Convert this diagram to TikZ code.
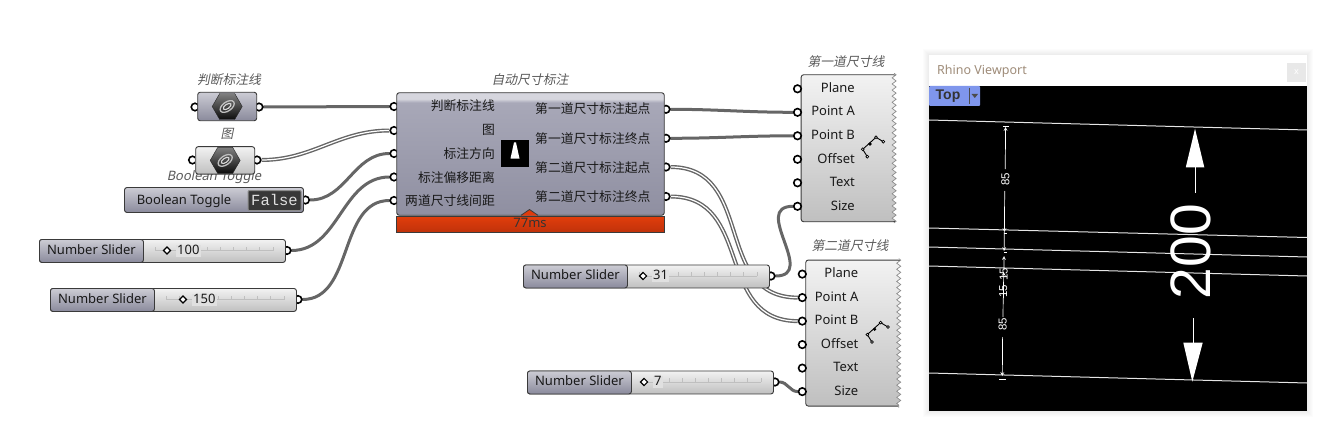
\documentclass[tikz,border=0pt]{standalone}
\usepackage{fontspec}
\setmainfont{Noto Sans}
\newfontfamily\cjk{Noto Sans CJK SC}
\newfontfamily\cjkit[FakeSlant=0.2]{Noto Sans CJK SC}
\newfontfamily\latinit[FakeSlant=0.2]{Noto Sans}
\newfontfamily\monofont{Liberation Mono}
\newfontfamily\rhinofont{Liberation Sans}
\usetikzlibrary{shapes.geometric,decorations.pathmorphing,backgrounds}
\definecolor{wirecol}{HTML}{666666}
\definecolor{boxedge}{HTML}{3A3A3A}
\definecolor{timered}{HTML}{E03A0C}
\definecolor{topblue}{HTML}{7F96EC}
\definecolor{darktop}{HTML}{CCCCD4}
\definecolor{darkmid}{HTML}{A4A4B4}
\definecolor{darkbot}{HTML}{8A8A9C}
\definecolor{mainlow}{HTML}{8F8FA1}
\definecolor{mainhigh}{HTML}{A8A8B8}
\definecolor{mainband}{HTML}{D6D6DE}
\pgfdeclareverticalshading{mainshade}{100bp}{color(0bp)=(mainlow);color(25bp)=(mainlow);color(71bp)=(mainhigh);color(72.5bp)=(mainband);color(75bp)=(mainband);color(100bp)=(mainband)}
\tikzset{
  grip/.style={circle,draw=black,line width=1.6,fill=white,inner sep=0,minimum size=7.5},
  boxbase/.style={rectangle,rounded corners=2.5,draw=boxedge,line width=.9,inner sep=0},
  darkbox/.style={boxbase,top color=darktop,middle color=darkmid,bottom color=darkbot},
  lightbox/.style={boxbase,top color=black!5,middle color=black!13,bottom color=black!25},
  wire/.style={draw=wirecol,line width=3,line cap=round},
  listwire/.style={draw=wirecol,line width=1.4,double=white,double distance=1.2},
  porttext/.style={font=\fontsize{13}{15}\selectfont,text=black!90,inner sep=0,text height=9.5,text depth=2.5},
  cjktext/.style={font=\cjk\fontsize{12.8}{15}\selectfont,text=black!90,inner sep=0,yshift=-1pt},
  nicktext/.style={font=\cjkit\fontsize{12.8}{15}\selectfont,text=black!65,inner sep=0},
  dimline/.style={draw=white,line width=.7,>=stealth},
  viewline/.style={draw=white!90!black,line width=1},
  zigedge/.style={decoration={zigzag,segment length=6.1,amplitude=2}}
}
\begin{document}
\begin{tikzpicture}[x=1pt,y=-1pt]
\useasboundingbox (0,0) rectangle (1338,441);

% parameters
\node[nicktext] (nick1) at (229,80) {判断标注线};
\node[nicktext] (nick2) at (227,134) {图};
\node[porttext,font=\latinit\fontsize{13}{15}\selectfont,text=black!65] (nick3) at (214,176.5) {Boolean Toggle};
\node[grip] (p1in) at (195,107) {};
\node[grip] (p1out) at (259,107) {};
\node[grip] (p2in) at (192.5,160) {};
\node[grip] (p2out) at (257,160) {};
\node[darkbox,minimum width=59,minimum height=28.5] (param1) at (227.2,106.5) {};
\node[lightbox,minimum width=59,minimum height=27.5] (param2) at (225.2,160.4) {};
\foreach \n in {1,2} {
  \node[regular polygon,regular polygon sides=6,minimum size=30,inner sep=0,top color=black!50,bottom color=black!95,draw=black!85] (hex\n) at (param\n) {};
  \draw[white!75!black,line width=1.3,rotate around={35:(hex\n)}] (hex\n) ellipse (8 and 4.5);
  \draw[white!85!black,line width=1.1,rotate around={35:(hex\n)}] (hex\n) ellipse (4.5 and 2.2);
}

% toggle
\node[grip] (toggleout) at (305.5,200) {};
\node[darkbox,minimum width=179,minimum height=25] (toggle) at (214,200) {};
\node[porttext] (togglename) at (184,201) {Boolean Toggle};
\node[rectangle,rounded corners=1,draw=black!45,line width=1,fill=black!78,minimum width=53,minimum height=20,inner sep=0,text=black!12,text height=9,text depth=0,font=\monofont\fontsize{15.5}{17}\selectfont] (toggleval) at (274.5,200.5) {False};

% sliders
\foreach \n/\x/\y/\v/\d in {1/39/239/100/128,2/50/288/150/133,3/523/264.5/31/120,4/527/370.5/7/117} {
  \node[grip] (sliderout\n) at (\x+248,\y+11.5) {};
  \node[lightbox,anchor=north west,minimum width=246,minimum height=23] (slider\n) at (\x,\y) {};
  \node[darkbox,anchor=north west,minimum width=104,minimum height=23] (slidername\n) at (\x,\y) {};
  \node[porttext] at (slidername\n) {Number Slider};
  \draw[black!25,line width=.7] (\x+116,\y+11.5) -- (\x+234,\y+11.5);
  \foreach \k in {0,...,9}
    \draw[black!25,line width=.7] (\x+116+\k*13.1,\y+11.5) -- (\x+116+\k*13.1,\y+7.5);
  \node[porttext,anchor=west,fill=black!12,inner xsep=1,inner ysep=0] (sliderval\n) at (\x+\d+9,\y+11.5) {\v};
  \node[diamond,draw=black,line width=1.1,fill=white,inner sep=0,minimum size=7.5] (sliderdot\n) at (\x+\d,\y+11.5) {};
}

% main component
\node[grip] (in1) at (394,106.5) {};
\node[grip] (in2) at (394,130.5) {};
\node[grip] (in3) at (394,153.5) {};
\node[grip] (in4) at (394,177) {};
\node[grip] (in5) at (394,200.5) {};
\node[grip] (out1) at (666,109.3) {};
\node[grip] (out2) at (666,138.3) {};
\node[grip] (out3) at (666,167) {};
\node[grip] (out4) at (666,196.5) {};
\node[boxbase,shading=mainshade,minimum width=267.5,minimum height=122.5] (mainbox) at (530.5,154) {};
\node[rectangle,draw=boxedge,line width=.9,top color=timered!95!orange,bottom color=timered!85!black,minimum width=267.5,minimum height=16.5,inner sep=0] (timebar) at (530.5,224.5) {};
\fill[timered] (521,215.5) -- (529.5,209.5) -- (538,215.5) -- cycle;
\draw[boxedge,line width=.8] (521,215.3) -- (529.5,209.5) -- (538,215.3);
\node[porttext,text=black!80] (timetext) at (530,224) {77ms};
\node[nicktext] (mainnick) at (530,80) {自动尺寸标注};
\node[cjktext,anchor=east] (inlabel1) at (495,105) {判断标注线};
\node[cjktext,anchor=east] (inlabel2) at (495,129) {图};
\node[cjktext,anchor=east] (inlabel3) at (495,152.5) {标注方向};
\node[cjktext,anchor=east] (inlabel4) at (495,176.5) {标注偏移距离};
\node[cjktext,anchor=east] (inlabel5) at (495,200) {两道尺寸线间距};
\node[cjktext,anchor=west] (outlabel1) at (535,108) {第一道尺寸标注起点};
\node[cjktext,anchor=west] (outlabel2) at (535,137.5) {第一道尺寸标注终点};
\node[cjktext,anchor=west] (outlabel3) at (535,167) {第二道尺寸标注起点};
\node[cjktext,anchor=west] (outlabel4) at (535,196) {第二道尺寸标注终点};
\node[rectangle,fill=black,minimum width=28,minimum height=27.5,inner sep=0] (preview) at (515.3,153.6) {};
\fill[white] (514,142.5) -- (516,142.5) -- (519.5,158.5) -- (510.5,158.5) -- cycle;

% dimension components
\foreach \n/\x/\y/\m/\w/\h/\g/\t in {1/800.7/74.3/847.7/95/147/797.5/855,2/805.3/259.6/852.9/95/146/802.3/858.5} {
  \node[lightbox,anchor=north west,minimum width=\w,minimum height=\h] (comp\n) at (\x,\y) {};
  \path[fill=white,zigedge] decorate {([xshift=-2.5pt,yshift=1pt]comp\n.north east) -- ([xshift=-2.5pt,yshift=-1pt]comp\n.south east)} -- ([xshift=3pt,yshift=-2pt]comp\n.south east) -- ([xshift=3pt,yshift=2pt]comp\n.north east) -- cycle;
  \draw[black!45,line width=.7,decorate,zigedge] ([xshift=-2.5pt,yshift=1pt]comp\n.north east) -- ([xshift=-2.5pt,yshift=-1pt]comp\n.south east);
  \foreach \l/\o [count=\i] in {Plane/0,Point A/23.5,Point B/47,Offset/70.5,Text/94,Size/117.5} {
    \node[grip] (comp\n in\i) at (\g,\y+14.5+\o) {};
    \node[porttext,anchor=east] (comp\n label\i) at (\t,\y+14.7+\o) {\l};
  }
  \draw[black,line width=.9] (\x+66.6,\y+82.4) -- (\x+62,\y+75) -- (\x+75.3,\y+63) -- (\x+82.6,\y+67.4);
  \fill[black] (\x+69.3,\y+69.7) circle (1.8);
  \foreach \a/\b in {66.6/82.4,62/75,75.3/63,82.6/67.4}
    \draw[black,fill=white,line width=.7] (\x+\a,\y+\b) circle (1.4);
}
\node[nicktext] (comp1nick) at (846,62) {第一道尺寸线};
\node[nicktext] (comp2nick) at (850,246) {第二道尺寸线};

% wires
\begin{scope}[on background layer]
\draw[wire] (p1out) -- (in1);
\draw[listwire] (p2out) to[out=0,in=180] (in2);
\draw[wire] (toggleout) to[out=0,in=180] (in3);
\draw[wire] (sliderout1) to[out=0,in=180] (in4);
\draw[wire] (sliderout2) to[out=0,in=180] (in5);
\draw[wire] (out1) to[out=0,in=180] (comp1in2);
\draw[wire] (out2) to[out=0,in=180] (comp1in3);
\draw[listwire] (out3) to[out=0,in=180,looseness=1.2] (comp2in2);
\draw[listwire] (out4) to[out=0,in=180,looseness=1.2] (comp2in3);
\draw[wire] (sliderout3) to[out=0,in=180,looseness=1.5] (comp1in6);
\draw[wire] (sliderout4) to[out=0,in=180] (comp2in6);
\end{scope}

% viewport
\foreach \s in {1,...,6}
  \fill[black,opacity=.012] (929-\s,55-\s) rectangle (1307+\s,411+\s);
\node[rectangle,fill=white,minimum width=378,minimum height=31,inner sep=0] (viewtitle) at (1118,70.5) {};
\node[rectangle,fill=black,minimum width=378,minimum height=325,inner sep=0] (viewcanvas) at (1118,248.5) {};
\node[porttext,anchor=west,text=black!50!brown!60!white,font=\fontsize{12.5}{15}\selectfont] (viewname) at (937,71) {Rhino Viewport};
\node[rectangle,fill=black!9,minimum width=19,minimum height=19,inner sep=0,text=white,font=\fontsize{9}{10}\selectfont] (viewclose) at (1296.5,72.5) {x};
\fill[topblue,rounded corners=1] (929,86) rectangle (980,106);
\node[porttext,anchor=west,font=\rhinofont\bfseries\fontsize{14}{16}\selectfont,text=black!80] (viewtop) at (935.5,96.5) {Top};
\draw[black!70,line width=.8] (969.5,88) -- (969.5,104);
\fill[black!70] (971.5,94) -- (978,94) -- (974.8,98) -- cycle;

\draw[viewline] (929,120) -- (1307,130);
\draw[viewline] (929,228) -- (1307,237.5);
\draw[viewline] (929,247) -- (1307,257);
\draw[viewline] (929,266) -- (1307,276);
\draw[viewline] (929,373) -- (1307,383);

\draw[dimline,->] (1005.2,169) -- (1005.6,127);
\draw[dimline] (1002.8,126) -- (1009,126);
\draw[dimline,->] (1004.7,191) -- (1004.4,232);
\draw[dimline,->] (1004.3,232) -- (1004.1,251);
\draw[dimline,->] (1003.9,270) -- (1004,256);
\draw[dimline] (1004.4,233) -- (1007,233);
\draw[dimline] (1004.1,252) -- (1007,252);
\draw[dimline,->] (1003.4,298) -- (1003.7,272);
\draw[dimline] (1003.2,298) -- (1003,317);
\draw[dimline,->] (1002.6,337) -- (1002.3,376);
\draw[dimline] (999,379) -- (1006,379);
\foreach \y/\t in {179/85,274/15,291/15,324/85}
  \node[rotate=90,text=white,inner sep=0,font=\rhinofont\fontsize{11.5}{13}\selectfont] (dim\y) at ({1005.5-(\y-179)*.02},\y) {\t};

\fill[white] (1195,128.7) -- (1204.3,167.3) -- (1185.8,167.3) -- cycle;
\draw[white,line width=1] (1195,167) -- (1195,192.7);
\fill[white] (1192.3,381.7) -- (1202.7,342.7) -- (1183.3,342.7) -- cycle;
\draw[white,line width=1] (1193,343) -- (1193,317.7);
\node[rotate=90,text=white,inner sep=0,font=\rhinofont\fontsize{57}{60}\selectfont] (bigdim) at (1190.7,251.7) {200};
\end{tikzpicture}
\end{document}
